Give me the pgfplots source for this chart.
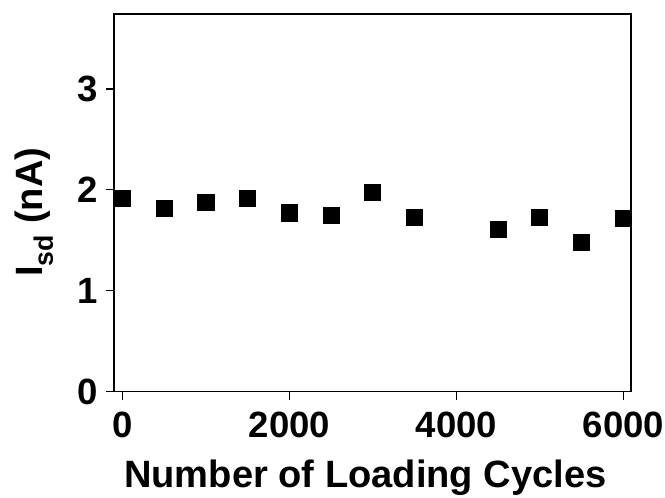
\documentclass[border=0pt]{standalone}
\usepackage{pgfplots}
\pgfplotsset{compat=1.18}
\usetikzlibrary{calc}
\usepackage{fontspec}
\setmainfont{Liberation Sans}

% Source-drain current measured after repeated loading cycles
\pgfplotstableread{
cycles  isd
0       1.916
500     1.809
1000    1.877
1500    1.914
2000    1.769
2500    1.740
3000    1.975
3500    1.722
4500    1.603
5000    1.720
5500    1.481
6000    1.715
}\cycledata

\begin{document}
\begin{tikzpicture}
\begin{axis}[
  name=main,
  scale only axis,
  width=516pt, height=377pt,
  xmin=-100, xmax=6090,
  ymin=0, ymax=3.74,
  xtick={0,2000,4000,6000},
  ytick={0,1,2,3},
  tick align=outside,
  xtick pos=bottom, ytick pos=left,
  major tick length=8pt,
  axis line style={line width=1.6pt},
  every tick/.style={black, line width=1.6pt},
  /pgf/number format/assume math mode=true,
  scaled x ticks=false,
  x tick label style={/pgf/number format/1000 sep={}},
  tick label style={font=\bfseries\fontsize{36.5}{42}\selectfont},
  xticklabel style={anchor=north, inner sep=0pt, yshift=-12pt},
  yticklabel style={anchor=east, inner sep=0pt, xshift=-8pt},
  xlabel={Number of Loading Cycles},
  ylabel={I\textsubscript{sd} (nA)},
  label style={font=\bfseries\fontsize{38}{44}\selectfont},
  xlabel style={at={(axis description cs:0.486,-0.253)}, anchor=base, inner sep=0pt},
  ylabel style={at={(axis description cs:-0.1395,0.475)}, rotate=0, anchor=base, inner sep=0pt},
  clip=false,
]
\addplot[only marks, mark=square*, mark size=8pt, mark options={fill=black, draw=black, line width=0pt}] table[x=cycles, y=isd] {\cycledata};
\end{axis}
\pgfresetboundingbox
\path ($(main.south west)+(-114pt,-106pt)$) rectangle ($(main.north east)+(34pt,14pt)$);
\end{tikzpicture}
\end{document}
